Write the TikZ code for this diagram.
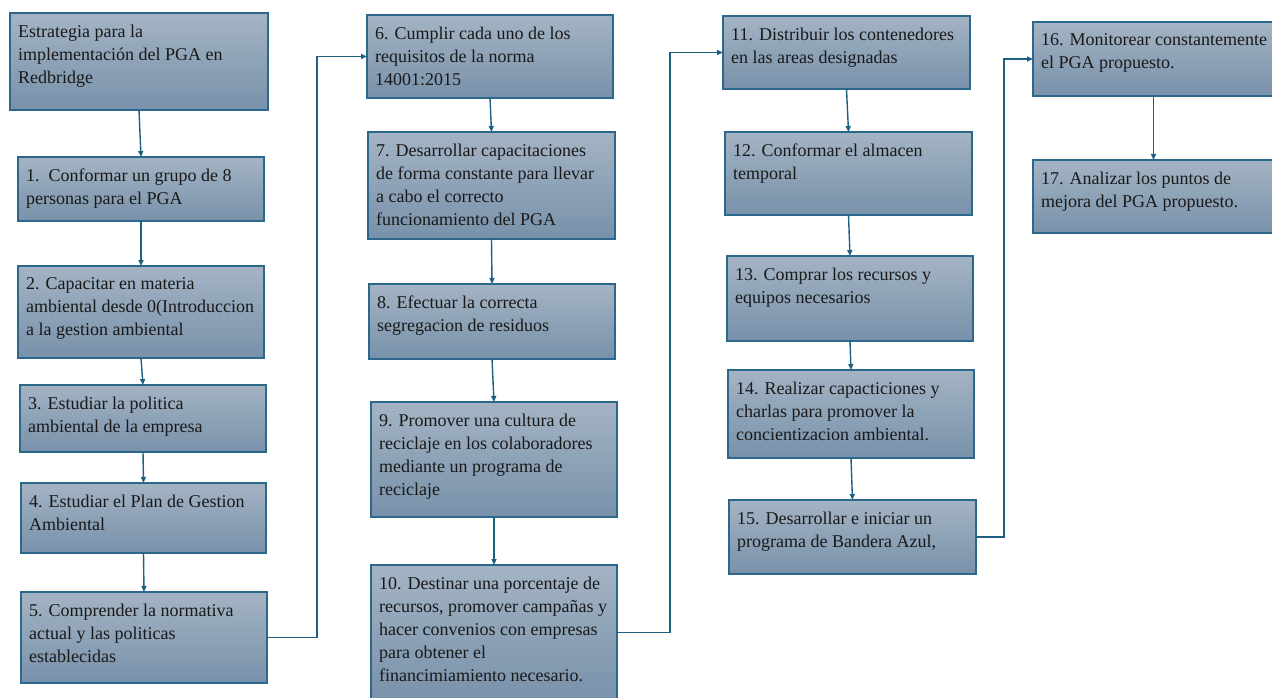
\documentclass[tikz,border=0pt]{standalone}
\usepackage{fontspec}
\setmainfont{Liberation Serif}
\usetikzlibrary{
    arrows.meta,
    positioning
}
\definecolor{pgaedge}{RGB}{44,104,140}
\definecolor{pgaline}{RGB}{30,96,130}
\definecolor{pgatop}{RGB}{164,180,196}
\definecolor{pgabottom}{RGB}{120,145,170}

\tikzset{
    pgastep/.style={
        draw=pgaedge,
        line width=1.3pt,
        top color=pgatop,
        bottom color=pgabottom,
        inner sep=0pt,
        outer sep=0pt,
        anchor=north west
    },
    pgatext/.style={
        align=left,
        inner sep=0pt,
        anchor=north west,
        text=black!90,
        font=\fontsize{18}{23}\selectfont
    }
}

% box from (left,top) to (right,bottom), text set at its upper left
\newcommand{\pgabox}[6]{%
    \node[pgastep, minimum width=#4pt-#2pt, minimum height=#5pt-#3pt] (#1) at (#2,#3) {};
    \node[pgatext] (#1-text) at ([xshift=8pt, yshift=-11.5pt]#1.north west) {#6};
}

\begin{document}
\begin{tikzpicture}[
    x=1pt, y=-1pt,
    flow/.style={draw=pgaline, line width=1.4pt, -{Triangle[length=6pt,width=5pt]}}
    ]

    \useasboundingbox (0,0) rectangle (1272,698);

    % first column
    \pgabox{start}{10}{13}{268}{110}{Estrategia para la\\implementación del PGA en\\Redbridge}
    \pgabox{s1}{18}{157}{264}{221}{1.\ \ Conformar un grupo de 8\\personas para el PGA}
    \pgabox{s2}{18}{266}{264}{358}{2. Capacitar en materia\\ambiental desde 0(Introduccion\\a la gestion ambiental}
    \pgabox{s3}{20}{385}{266}{452}{3. Estudiar la politica\\ambiental de la empresa}
    \pgabox{s4}{21}{483}{266}{553}{4. Estudiar el Plan de Gestion\\Ambiental}
    \pgabox{s5}{21}{592}{267}{683}{5. Comprender la normativa\\actual y las politicas\\establecidas}

    % second column
    \pgabox{s6}{367}{15}{613}{98}{6. Cumplir cada uno de los\\requisitos de la norma\\14001:2015}
    \pgabox{s7}{368}{132}{615}{239}{7. Desarrollar capacitaciones\\de forma constante para llevar\\a cabo el correcto\\funcionamiento del PGA}
    \pgabox{s8}{369}{284}{615}{359}{8. Efectuar la correcta\\segregacion de residuos}
    \pgabox{s9}{371}{402}{617}{517}{9. Promover una cultura de\\reciclaje en los colaboradores\\mediante un programa de\\reciclaje}
    \pgabox{s10}{371}{565}{617}{700}{10. Destinar una porcentaje de\\recursos, promover campañas y\\hacer convenios con empresas\\para obtener el\\financimiamiento necesario.}

    % third column
    \pgabox{s11}{723}{16}{970}{89}{11. Distribuir los contenedores\\en las areas designadas}
    \pgabox{s12}{725}{132}{972}{215}{12. Conformar el almacen\\temporal}
    \pgabox{s13}{727}{256}{973}{341}{13. Comprar los recursos y\\equipos necesarios}
    \pgabox{s14}{728}{370}{974}{458}{14. Realizar capacticiones y\\charlas para promover la\\concientizacion ambiental.}
    \pgabox{s15}{729}{500}{976}{574}{15. Desarrollar e iniciar un\\programa de Bandera Azul,}

    % fourth column
    \pgabox{s16}{1033}{22}{1274}{96}{16. Monitorear constantemente\\el PGA propuesto.}
    \pgabox{s17}{1033}{160}{1274}{233}{17. Analizar los puntos de\\mejora del PGA propuesto.}

    \draw[flow] (start.south) -- (s1.north);
    \draw[flow] (s1.south) -- (s2.north);
    \draw[flow] (s2.south) -- (s3.north);
    \draw[flow] (s3.south) -- (s4.north);
    \draw[flow] (s4.south) -- (s5.north);
    \draw[flow] (s5.east) -- ++(50,0) |- (s6.west);

    \draw[flow] (s6.south) -- (s7.north);
    \draw[flow] (s7.south) -- (s8.north);
    \draw[flow] (s8.south) -- (s9.north);
    \draw[flow] (s9.south) -- (s10.north);
    \draw[flow] (s10.east) -- ++(53,0) |- (s11.west);

    \draw[flow] (s11.south) -- (s12.north);
    \draw[flow] (s12.south) -- (s13.north);
    \draw[flow] (s13.south) -- (s14.north);
    \draw[flow] (s14.south) -- (s15.north);
    \draw[flow] (s15.east) -- ++(28,0) |- (s16.west);

    \draw[flow] (s16.south) -- (s17.north);

\end{tikzpicture}
\end{document}
